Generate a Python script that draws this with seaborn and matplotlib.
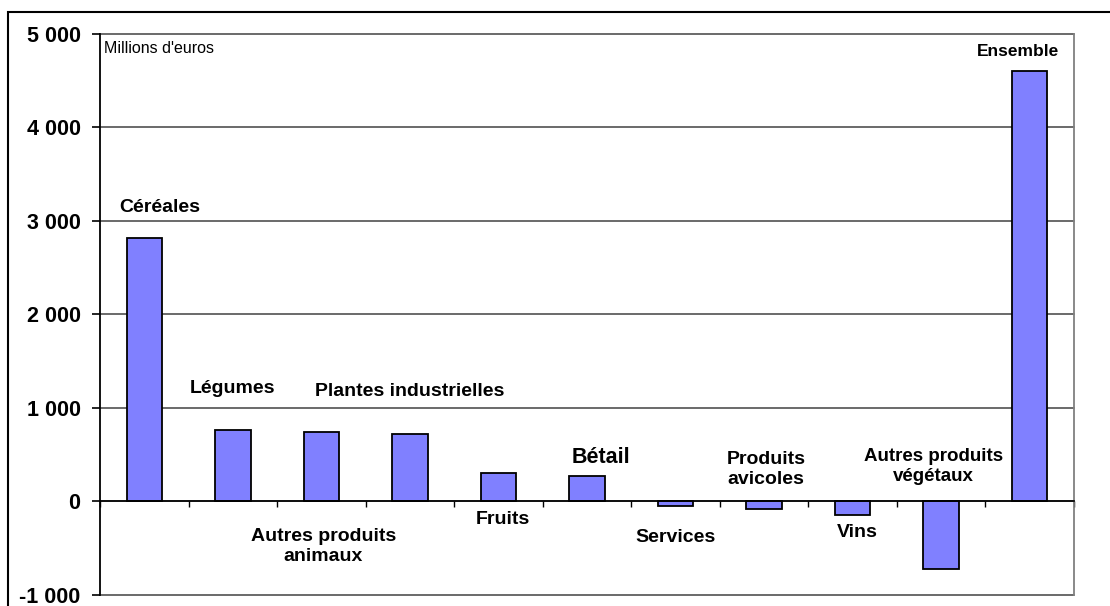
import numpy as np
import pandas as pd
import matplotlib
matplotlib.use("Agg")
import matplotlib.pyplot as plt
import seaborn as sns
from matplotlib.patches import Rectangle

# Variation of agricultural output value by product (millions of euros)
categories = ["Céréales", "Légumes", "Autres produits animaux", "Plantes industrielles",
              "Fruits", "Bétail", "Services", "Produits avicoles", "Vins",
              "Autres produits végétaux", "Ensemble"]
values = [2820, 770, 740, 725, 300, 270, -45, -75, -140, -720, 4600]
bar_labels = ["Céréales", "Légumes", "Autres produits\nanimaux", "Plantes industrielles",
              "Fruits", "Bétail", "Services", "Produits\navicoles", "Vins",
              "Autres produits\nvégétaux", "Ensemble"]
y_ticks = [-1000, 0, 1000, 2000, 3000, 4000, 5000]
y_tick_labels = ["-1 000", "0", "1 000", "2 000", "3 000", "4 000", "5 000"]
unit_label = "Millions d'euros"

sns.set_style("white")
plt.rcParams["font.family"] = ["Liberation Sans", "DejaVu Sans"]
plt.rcParams["text.color"] = "black"
plt.rcParams["xtick.color"] = "black"
plt.rcParams["ytick.color"] = "black"
plt.rcParams["axes.labelcolor"] = "black"

df = pd.DataFrame({"categorie": categories, "valeur": values})

fig = plt.figure(figsize=(11.1, 6.06), dpi=100)
W, H = 1110, 606
ax = fig.add_axes([100 / W, 1 - 595 / H, (1074 - 100) / W, (595 - 34) / H])

sns.barplot(data=df, x="categorie", y="valeur", color="#8080FF", saturation=1,
            edgecolor="black", linewidth=1.3, width=0.4, ax=ax)

ax.set_xlim(-0.5, len(categories) - 0.5)
ax.set_ylim(-1000, 5000)
ax.set_xlabel("")
ax.set_ylabel("")

# horizontal gridlines
for yv in y_ticks:
    ax.axhline(yv, color="#505050", lw=1.2, zorder=0, clip_on=False)

# y axis
ax.set_yticks(y_ticks)
ax.set_yticklabels(y_tick_labels, fontsize=15.5, fontweight="bold", color="black")
ax.tick_params(axis="y", direction="out", length=6, width=1.2, color="black", pad=8, left=True)

# x axis on the zero line, ticks at category boundaries
ax.spines["bottom"].set_position(("data", 0))
ax.spines["bottom"].set_color("black")
ax.spines["bottom"].set_linewidth(1.2)
bounds = np.arange(-0.5, len(categories), 1.0)
ax.set_xticks(bounds)
ax.set_xticklabels([""] * len(bounds))
ax.tick_params(axis="x", direction="out", length=4.5, width=1.0, color="black", bottom=True)

ax.spines["left"].set_color("black")
ax.spines["left"].set_linewidth(1.3)
ax.spines["top"].set_visible(False)
ax.spines["right"].set_color("#808080")
ax.spines["right"].set_linewidth(1.3)

# category labels placed near their bars
anchors = [(0.18, 3140), (1.0, 1210), (2.02, -480), (3.0, 1180), (4.05, -190),
           (5.16, 475), (6.0, -390), (7.02, 340), (8.05, -330), (8.91, 375),
           (9.87, 4815)]
sizes = [14, 14, 14, 14, 14, 15.5, 14, 14, 14, 13.5, 12.5]
for (xa, ya), txt, fs in zip(anchors, bar_labels, sizes):
    ax.text(xa, ya, txt, ha="center", va="center", fontsize=fs, fontweight="bold",
            linespacing=1.25, multialignment="center", color="black")

ax.text(0.004, 0.987, unit_label, transform=ax.transAxes,
        ha="left", va="top", fontsize=11.5, color="black")

# outer frame
fig.add_artist(Rectangle((8 / W, -0.1), 1.2, 1 - 12 / H + 0.1, transform=fig.transFigure,
                         fill=False, ec="black", lw=1.5))

fig.savefig("out.png", dpi=100)
